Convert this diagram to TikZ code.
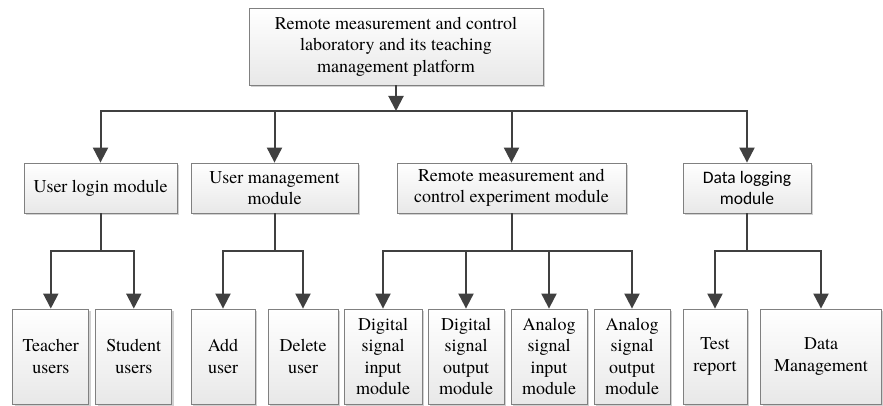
\documentclass[tikz,border=0pt]{standalone}
\usepackage{fontspec}
\newfontfamily\tms{texgyretermes}[Extension=.otf,UprightFont=*-regular]
\newfontfamily\carl{Carlito}
\usetikzlibrary{arrows.meta,shadows}
\definecolor{ln}{HTML}{404040}
\definecolor{bd}{HTML}{808080}
\begin{document}
\begin{tikzpicture}[x=1pt,y=-1pt,
  box/.style={draw=bd,line width=0.8pt,top color=white,bottom color=black!9,
    drop shadow={shadow xshift=2pt,shadow yshift=-2pt,fill=black!18,opacity=1},
    align=center,inner sep=0pt,font=\tms\fontsize{18}{21.5}\selectfont},
  conn/.style={draw=ln,line width=2pt},
  arr/.style={conn,-{Triangle[length=15pt,width=15pt]}}]
\useasboundingbox (0,0) rectangle (883,406);
% top
\node[box,minimum width=294pt,minimum height=77pt] (top) at (396,46.5)
  {Remote measurement and control\\laboratory and its teaching\\management platform};
% level 2
\node[box,minimum width=153pt,minimum height=50pt] (la) at (100.5,188) {User login module};
\node[box,minimum width=167pt,minimum height=50pt] (lb) at (274.5,188) {User management\\module};
\node[box,minimum width=229pt,minimum height=50pt] (lc) at (511.5,188) {Remote measurement and\\control experiment module};
\node[box,minimum width=128pt,minimum height=50pt,font=\carl\fontsize{17.5}{21.5}\selectfont] (ld) at (747,188) {Data logging\\module};
% level 3
\tikzset{leaf/.style={box,minimum height=95pt}}
\node[leaf,minimum width=76pt] (a1) at (50.8,356.5) {Teacher\\users};
\node[leaf,minimum width=76pt] (a2) at (133.8,356.5) {Student\\users};
\node[leaf,minimum width=64pt] (b1) at (223,356.5) {Add\\user};
\node[leaf,minimum width=70pt] (b2) at (303,356.5) {Delete\\user};
\node[leaf,minimum width=78pt] (c1) at (383,356.5) {Digital\\signal\\input\\module};
\node[leaf,minimum width=76pt] (c2) at (466,356.5) {Digital\\signal\\output\\module};
\node[leaf,minimum width=76pt] (c3) at (549,356.5) {Analog\\signal\\input\\module};
\node[leaf,minimum width=76pt] (c4) at (632,356.5) {Analog\\signal\\output\\module};
\node[leaf,minimum width=64pt] (d1) at (715,356.5) {Test\\report};
\node[leaf,minimum width=121pt] (d2) at (821,356.5) {Data\\Management};
% connectors level 1 -> 2
\coordinate (j0) at (396,111);
\draw[arr] (top.south) -- (j0);
\draw[conn,line cap=rect] (j0 -| la) -- (j0 -| ld);
\foreach \n in {la,lb,lc,ld} \draw[arr] (j0 -| \n) -- (\n.north);
% level 2 -> 3
\coordinate (j1) at (0,251);
\foreach \p/\q/\r in {la/a1/a2,lb/b1/b2,ld/d1/d2} {
  \draw[conn] (\p.south) -- (j1 -| \p);
  \draw[conn,line cap=rect] (j1 -| \q) -- (j1 -| \r);
  \draw[arr] (j1 -| \q) -- (\q.north);
  \draw[arr] (j1 -| \r) -- (\r.north);
}
\draw[conn] (lc.south) -- (j1 -| lc);
\draw[conn,line cap=rect] (j1 -| c1) -- (j1 -| c4);
\foreach \n in {c1,c2,c3,c4} \draw[arr] (j1 -| \n) -- (\n.north);
\end{tikzpicture}
\end{document}
